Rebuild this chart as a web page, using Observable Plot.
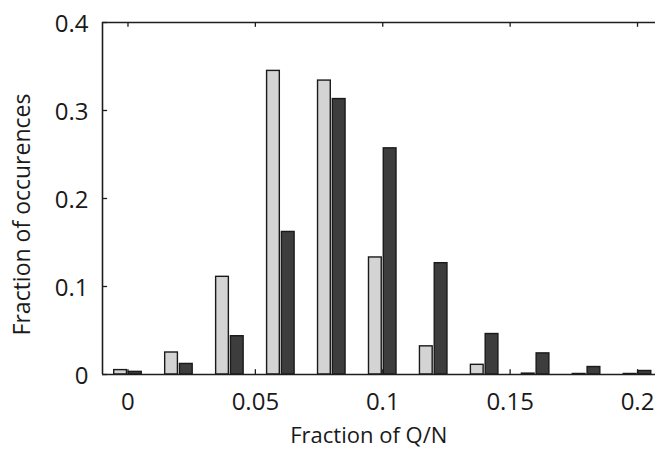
<!DOCTYPE html>
<html>
<head>
<meta charset="utf-8">
<script src="https://cdn.jsdelivr.net/npm/d3@7"></script>
<script src="https://cdn.jsdelivr.net/npm/@observablehq/plot@0.6"></script>
<style>
  html, body { margin: 0; padding: 0; background: #fff; overflow: hidden; }
  #chart svg { display: block; }
</style>
</head>
<body>
<div id="chart"></div>
<script>
// Bin centres (fraction of Q/N)
const binCenters = [0, 0.02, 0.04, 0.06, 0.08, 0.10, 0.12, 0.14, 0.16, 0.18, 0.20];
// Light-grey series (left bar of each pair)
const lightValues = [0.005, 0.025, 0.111, 0.345, 0.334, 0.133, 0.032, 0.011, 0.001, 0.0006, 0.0006];
// Dark-grey series (right bar of each pair)
const darkValues  = [0.003, 0.012, 0.0435, 0.162, 0.313, 0.257, 0.1265, 0.046, 0.024, 0.0085, 0.004];
// Axis ticks
const xTicks = [0, 0.05, 0.1, 0.15, 0.2];
const xTickLabels = ["0", "0.05", "0.1", "0.15", "0.2"];
const yTicks = [0, 0.1, 0.2, 0.3, 0.4];
const yTickLabels = ["0", "0.1", "0.2", "0.3", "0.4"];

const xDomain = [-0.01, 0.21];
const yDomain = [0, 0.4];

const light = binCenters.map((c, i) => ({c, v: lightValues[i]}));
const dark = binCenters.map((c, i) => ({c, v: darkValues[i]}));

const halfGap = 0.0004, barW = 0.0050;
const frameColor = "#1e1e1e";
const font = "'Open Sans', sans-serif";

const chart = Plot.plot({
  width: 655,
  height: 449,
  marginLeft: 102,
  marginTop: 22,
  marginBottom: 75,
  marginRight: 0,
  style: {fontFamily: font, background: "#fff", overflow: "hidden"},
  x: {domain: xDomain, range: [102, 662.5]},
  y: {domain: yDomain},
  marks: [
    // inward ticks on bottom (behind bars) and top
    Plot.ruleX(xTicks, {y1: 0, y2: 0.0055, stroke: frameColor, strokeWidth: 1.3}),
    Plot.ruleX(xTicks, {y1: 0.4, y2: 0.4 - 0.0055, stroke: frameColor, strokeWidth: 1.3}),
    Plot.ruleY(yTicks, {x1: -0.01, x2: -0.01 + 0.002, stroke: frameColor, strokeWidth: 1.3}),
    // bars
    Plot.rect(light, {x1: d => d.c - halfGap - barW, x2: d => d.c - halfGap, y1: 0, y2: "v",
      fill: "#d4d4d4", stroke: "#1a1a1a", strokeWidth: 1.4}),
    Plot.rect(dark, {x1: d => d.c + halfGap, x2: d => d.c + halfGap + barW, y1: 0, y2: "v",
      fill: "#3d3d3d", stroke: "#1a1a1a", strokeWidth: 1.4}),
    // frame: left, top, bottom
    Plot.ruleX([xDomain[0]], {stroke: frameColor, strokeWidth: 1.6}),
    Plot.ruleY(yDomain, {stroke: frameColor, strokeWidth: 1.6}),
    // axes labels
    Plot.axisX(xTicks, {tickSize: 0, tickPadding: 18, fontSize: 24, fill: "#1a1a1a",
      tickFormat: (d, i) => xTickLabels[i], label: null}),
    Plot.axisY(yTicks, {tickSize: 0, tickPadding: 14, fontSize: 24, fill: "#1a1a1a", dy: 2,
      tickFormat: (d, i) => yTickLabels[i], label: null}),
    Plot.text(["Fraction of Q/N"], {frameAnchor: "bottom", x: 0.0945, dy: 61, fontSize: 22, fill: "#1a1a1a", lineAnchor: "middle"}),
    Plot.text(["Fraction of occurences"], {frameAnchor: "left", dx: -80, dy: 16, rotate: -90, fontSize: 23, fill: "#1a1a1a", textAnchor: "middle", lineAnchor: "middle"})
  ]
});
document.getElementById("chart").appendChild(chart);
</script>
</body>
</html>
